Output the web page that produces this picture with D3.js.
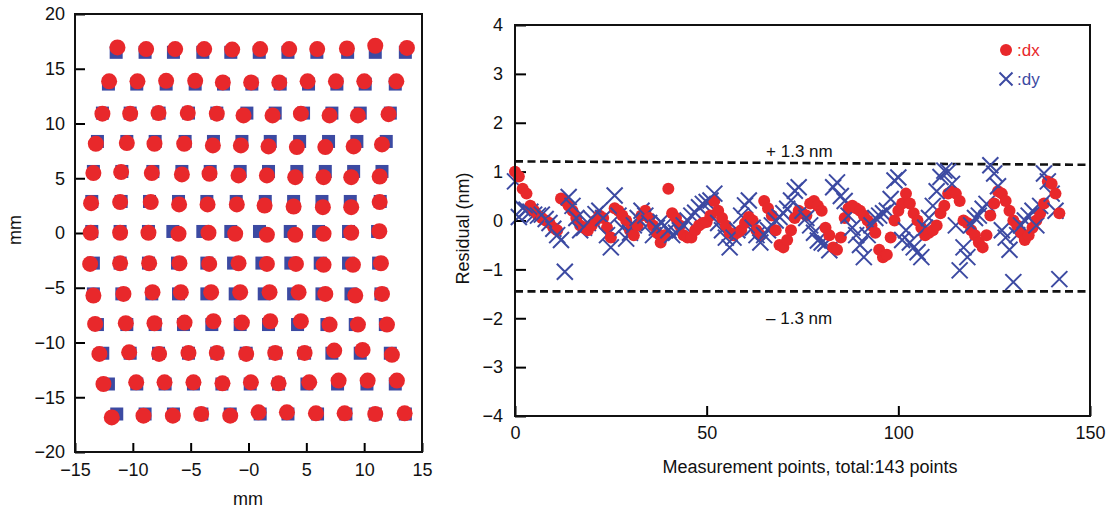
<!DOCTYPE html>
<html><head><meta charset="utf-8">
<script src="https://cdn.jsdelivr.net/npm/d3@7"></script>
<style>
html,body{margin:0;padding:0;background:#fff;}
svg{display:block;font-family:"Liberation Sans",Arial,Helvetica,sans-serif;}
</style></head>
<body>
<svg id="chart" width="1108" height="511"></svg>
<script>
// ---------- Left chart data (mm) ----------
const gridXTicks = [-15, -10, -5, 0, 5, 10, 15];
const gridXTickLabels = ["\u221215", "\u221210", "\u22125", "\u22120", "5", "10", "15"];
const gridYTicks = [20, 15, 10, 5, 0, -5, -10, -15, -20];
const gridYTickLabels = ["20", "15", "10", "5", "0", "\u22125", "\u221210", "\u221215", "\u221220"];

const squareRowY = [16.5, 13.6, 10.95, 8.36, 5.62, 2.88, 0.14, -2.75, -5.56, -8.36, -10.98, -13.79, -16.53];
const squareX = [
  [-11.44, -8.94, -6.49, -3.95, -1.53, 0.93, 3.41, 5.91, 8.57, 10.96, 13.56],
  [-12.11, -9.66, -7.12, -4.61, -2.16, 0.29, 2.74, 5.19, 7.64, 10.09, 12.69],
  [-12.63, -10.23, -7.73, -5.19, -2.74, -0.14, 2.31, 4.76, 7.21, 9.66, 12.26],
  [-13.06, -10.52, -8.07, -5.48, -3.03, -0.57, 1.88, 4.42, 6.92, 9.37, 11.91],
  [-13.41, -10.95, -8.27, -5.76, -3.31, -0.72, 1.73, 4.18, 6.64, 9.09, 11.54],
  [-13.55, -11.01, -8.56, -6.05, -3.60, -1.06, 1.45, 3.90, 6.35, 8.80, 11.39],
  [-13.55, -11.10, -8.65, -6.54, -3.95, -1.53, 0.95, 3.61, 6.06, 8.65, 11.16],
  [-13.41, -11.10, -8.65, -6.14, -3.60, -1.29, 1.16, 3.66, 6.20, 8.65, 11.25],
  [-13.41, -10.95, -8.36, -6.05, -3.60, -1.15, 1.36, 3.90, 6.35, 8.86, 11.45],
  [-13.06, -10.52, -8.07, -5.62, -3.17, -0.72, 1.73, 4.24, 6.78, 9.23, 11.83],
  [-12.60, -10.23, -7.78, -5.19, -2.74, -0.20, 2.31, 4.85, 7.21, 9.66, 12.26],
  [-12.11, -9.66, -7.21, -4.76, -2.30, 0.15, 2.60, 5.05, 7.70, 10.24, 12.69],
  [-11.39, -8.94, -6.49, -4.03, -1.58, 1.01, 3.41, 5.97, 8.42, 10.96, 13.56]
];
const circleX = [
  [-11.33, -8.85, -6.34, -3.83, -1.41, 1.01, 3.52, 5.94, 8.51, 10.96, 13.70],
  [-12.05, -9.60, -7.12, -4.61, -2.22, 0.23, 2.66, 5.11, 7.56, 10.01, 12.78],
  [-12.63, -10.23, -7.78, -5.25, -2.74, -0.43, 2.08, 4.53, 7.01, 9.46, 12.11],
  [-13.20, -10.52, -8.13, -5.56, -3.08, -0.66, 1.73, 4.18, 6.64, 9.09, 11.54],
  [-13.41, -11.01, -8.36, -5.76, -3.37, -0.86, 1.59, 4.04, 6.49, 8.88, 11.34],
  [-13.61, -11.10, -8.45, -6.00, -3.54, -1.01, 1.39, 3.90, 6.43, 8.88, 11.34],
  [-13.64, -11.10, -8.65, -6.05, -3.46, -1.15, 1.59, 4.04, 6.49, 8.88, 11.31],
  [-13.69, -11.10, -8.59, -5.97, -3.40, -0.86, 1.59, 4.10, 6.49, 9.03, 11.45],
  [-13.41, -10.81, -8.30, -5.85, -3.23, -0.72, 1.82, 4.33, 6.64, 9.23, 11.54],
  [-13.26, -10.61, -8.13, -5.53, -3.03, -0.57, 1.88, 4.53, 7.01, 9.46, 11.97],
  [-12.89, -10.32, -7.73, -5.19, -2.74, -0.20, 2.31, 4.85, 7.41, 9.86, 12.40],
  [-12.54, -9.71, -7.26, -4.76, -2.25, 0.21, 2.60, 5.25, 7.79, 10.30, 12.83],
  [-11.82, -9.08, -6.54, -4.09, -1.58, 0.87, 3.32, 5.83, 8.31, 10.96, 13.50]
];
const circleY = [
  [16.95, 16.8, 16.8, 16.8, 16.75, 16.8, 16.8, 16.8, 16.85, 17.1, 16.9],
  [13.85, 13.85, 13.9, 13.9, 13.75, 13.75, 13.75, 13.85, 13.85, 13.85, 13.85],
  [10.9, 10.9, 10.95, 10.95, 10.9, 10.74, 10.74, 10.9, 10.74, 10.74, 10.85],
  [8.15, 8.21, 8.15, 8.15, 8.0, 8.0, 7.91, 7.85, 7.85, 7.91, 8.09],
  [5.47, 5.56, 5.47, 5.35, 5.41, 5.26, 5.26, 5.10, 5.10, 5.10, 5.16],
  [2.72, 2.82, 2.82, 2.61, 2.61, 2.61, 2.51, 2.42, 2.36, 2.36, 2.82],
  [0.02, 0.02, 0.02, -0.07, 0.02, -0.07, -0.16, -0.16, -0.07, 0.02, 0.16],
  [-2.82, -2.76, -2.76, -2.76, -2.82, -2.76, -2.82, -2.82, -2.91, -2.91, -2.76],
  [-5.71, -5.56, -5.41, -5.41, -5.41, -5.41, -5.41, -5.41, -5.56, -5.71, -5.56],
  [-8.30, -8.24, -8.24, -8.18, -8.06, -8.18, -8.06, -8.06, -8.36, -8.36, -8.36],
  [-11.04, -10.90, -11.04, -10.95, -10.95, -11.04, -10.95, -10.95, -10.74, -10.68, -11.13],
  [-13.79, -13.64, -13.64, -13.64, -13.73, -13.64, -13.73, -13.64, -13.48, -13.48, -13.48],
  [-16.84, -16.68, -16.68, -16.53, -16.68, -16.38, -16.38, -16.47, -16.47, -16.53, -16.47]
];

// ---------- Right chart data (nm) ----------
const resXTicks = [0, 50, 100, 150];
const resXTickLabels = ["0", "50", "100", "150"];
const resYTicks = [4, 3, 2, 1, 0, -1, -2, -3, -4];
const resYTickLabels = ["4", "3", "2", "1", "0", "\u22121", "\u22122", "\u22123", "\u22124"];

const dxValues = [
  1.0, 0.9, 0.65, 0.55, 0.3, 0.2, 0.1, 0.05, 0.0, -0.05, -0.15,
  -0.2, 0.45, 0.4, 0.3, 0.2, 0.05, -0.1, -0.15, -0.2, -0.1, 0.0,
  0.1, 0.05, -0.15, -0.35, 0.25, 0.2, 0.1, 0.0, -0.2, -0.3, -0.1,
  0.1, 0.2, 0.05, -0.1, -0.25, -0.45, -0.3, 0.65, 0.15, 0.05, -0.1,
  -0.3, -0.35, -0.35, -0.2, -0.1, -0.05, -0.03, 0.1, 0.4, 0.2, 0.05,
  -0.1, -0.25, -0.3, -0.25, -0.2, -0.05, 0.07, 0.0, -0.2, -0.3, 0.4,
  0.25, 0.1, -0.2, -0.5, -0.55, -0.4, -0.2, 0.05, 0.2, 0.15, 0.1,
  0.35, 0.4, 0.3, 0.2, -0.15, -0.3, -0.55, -0.6, -0.35, 0.05, 0.25,
  0.3, 0.25, 0.2, 0.1, 0.0, -0.1, -0.25, -0.6, -0.75, -0.7, -0.35,
  0.0, 0.2, 0.35, 0.55, 0.35, 0.15, 0.0, -0.15, -0.3, -0.25, -0.2,
  -0.1, 0.15, 0.3, 0.55, 0.6, 0.55, 0.4, 0.0, -0.05, -0.2, -0.3,
  -0.45, -0.55, -0.3, 0.1, 0.35, 0.6, 0.55, 0.4, 0.2, 0.0, -0.1,
  -0.25, -0.4, -0.3, -0.15, 0.0, 0.15, 0.35, 0.8, 0.75, 0.55, 0.15
];
const dyValues = [
  0.80, 0.07, 0.25, 0.22, 0.18, 0.12, 0.10, 0.12, 0.03, -0.05, -0.17,
  -0.30, -0.40, -1.05, 0.48, 0.30, 0.05, -0.20, -0.15, -0.05, 0.03, 0.13,
  0.20, 0.05, -0.30, -0.55, 0.51, 0.10, -0.15, -0.37, -0.25, -0.10, 0.05,
  0.20, 0.10, -0.05, -0.30, -0.15, -0.03, -0.10, -0.20, -0.30, -0.25, -0.20,
  -0.10, 0.00, 0.10, 0.16, 0.27, 0.34, 0.38, 0.41, 0.55, -0.05, -0.20,
  -0.35, -0.55, -0.35, -0.20, 0.10, 0.31, 0.41, -0.15, -0.30, -0.45, -0.30,
  -0.20, -0.10, 0.00, 0.07, 0.15, 0.24, 0.41, 0.61, 0.68, 0.20, 0.05,
  -0.10, -0.25, -0.41, -0.45, -0.47, -0.61, 0.68, 0.78, 0.50, 0.40, 0.10,
  -0.15, -0.30, -0.50, -0.75, -0.30, -0.10, 0.05, 0.10, 0.15, 0.20, 0.44,
  0.82, 0.88, -0.40, -0.20, -0.45, -0.55, -0.65, -0.75, -0.15, 0.05, 0.30,
  0.60, 0.89, 1.02, 1.00, 0.75, -0.10, -1.02, -0.55, -0.75, -0.10, 0.05,
  0.10, 0.24, 0.34, 1.13, 0.96, 0.70, -0.20, -0.35, -0.60, -1.26, -0.30,
  -0.10, 0.00, 0.10, 0.20, -0.10, 0.30, 0.96, 0.80, 0.55, 0.20, -1.20
];
const upperLimit = [[0, 1.21], [150, 1.14]];
const lowerLimit = [[0, -1.45], [150, -1.45]];
const upperLabel = {x: 65.5, y: 1.43, text: "+ 1.3 nm"};
const lowerLabel = {x: 65.5, y: -1.99, text: "\u2013 1.3 nm"};

// ---------- Styles ----------
const RED = "#e8282b", BLUE = "#3c4aa2", FONT = 18;
const svg = d3.select("#chart");
svg.append("rect").attr("width", 1108).attr("height", 511).attr("fill", "#fff");

function styleAxis(g) {
  g.select(".domain").remove();
  g.selectAll(".tick line").attr("stroke", "#000").attr("stroke-width", 2);
  g.selectAll(".tick text").attr("font-size", FONT).attr("fill", "#111")
    .attr("font-family", '"Liberation Sans",Arial,sans-serif');
}

// ================= Left chart =================
const L = {x0: 75, x1: 422, y0: 14, y1: 452};
const gx = d3.scaleLinear().domain([-15, 15]).range([L.x0, L.x1]);
const gy = d3.scaleLinear().domain([-20, 20]).range([L.y1, L.y0]);
const left = svg.append("g");

left.append("g").attr("transform", `translate(0,${L.y1})`)
  .call(d3.axisBottom(gx).tickValues(gridXTicks).tickSizeInner(-9).tickSizeOuter(0).tickPadding(11)
    .tickFormat((d, i) => gridXTickLabels[i]))
  .call(styleAxis);
left.append("g").attr("transform", `translate(${L.x0},0)`)
  .call(d3.axisLeft(gy).tickValues(gridYTicks).tickSizeInner(-10).tickSizeOuter(0).tickPadding(10)
    .tickFormat((d, i) => gridYTickLabels[i]))
  .call(styleAxis);

const sq = 13;
const squares = [];
squareX.forEach((row, r) => row.forEach((x) => squares.push({x, y: squareRowY[r]})));
const circles = [];
circleX.forEach((row, r) => row.forEach((x, c) => circles.push({x, y: circleY[r][c]})));

left.append("g").selectAll("rect").data(squares).join("rect")
  .attr("x", d => gx(d.x) - sq / 2).attr("y", d => gy(d.y) - sq / 2)
  .attr("width", sq).attr("height", sq).attr("fill", BLUE);
left.append("g").selectAll("circle").data(circles).join("circle")
  .attr("cx", d => gx(d.x)).attr("cy", d => gy(d.y)).attr("r", 8).attr("fill", RED);

left.append("rect").attr("x", L.x0).attr("y", L.y0).attr("width", L.x1 - L.x0).attr("height", L.y1 - L.y0)
  .attr("fill", "none").attr("stroke", "#111").attr("stroke-width", 2);

left.append("text").attr("x", (L.x0 + L.x1) / 2 - 0.5).attr("y", 505).attr("text-anchor", "middle")
  .attr("font-size", FONT).attr("fill", "#111").text("mm");
left.append("text").attr("transform", `translate(21,${(L.y0 + L.y1) / 2 - 3}) rotate(-90)`)
  .attr("text-anchor", "middle").attr("font-size", FONT).attr("fill", "#111").text("mm");

// ================= Right chart =================
const R = {x0: 515, x1: 1090, y0: 25, y1: 416};
const rx = d3.scaleLinear().domain([0, 150]).range([R.x0, R.x1]);
const ry = d3.scaleLinear().domain([-4, 4]).range([R.y1, R.y0]);
const right = svg.append("g");

right.append("g").attr("transform", `translate(0,${R.y1})`)
  .call(d3.axisBottom(rx).tickValues(resXTicks).tickSizeInner(-10).tickSizeOuter(0).tickPadding(10)
    .tickFormat((d, i) => resXTickLabels[i]))
  .call(styleAxis);
right.append("g").attr("transform", `translate(${R.x0},0)`)
  .call(d3.axisLeft(ry).tickValues(resYTicks).tickSizeInner(-11).tickSizeOuter(0).tickPadding(12)
    .tickFormat((d, i) => resYTickLabels[i]))
  .call(styleAxis);

const line = d3.line().x(d => rx(d[0])).y(d => ry(d[1]));
[upperLimit, lowerLimit].forEach(pts => {
  right.append("path").attr("d", line(pts)).attr("fill", "none").attr("stroke", "#111")
    .attr("stroke-width", 2.6).attr("stroke-dasharray", "8,4.5");
});

const xPath = "M-8,-8L8,8M8,-8L-8,8";
const marks = right.append("g");
dxValues.forEach((v, i) => {
  marks.append("circle").attr("cx", rx(i)).attr("cy", ry(v)).attr("r", 6).attr("fill", RED);
  marks.append("path").attr("d", xPath).attr("transform", `translate(${rx(i)},${ry(dyValues[i])})`)
    .attr("stroke", BLUE).attr("stroke-width", 2).attr("fill", "none");
});

right.append("rect").attr("x", R.x0).attr("y", R.y0).attr("width", R.x1 - R.x0).attr("height", R.y1 - R.y0)
  .attr("fill", "none").attr("stroke", "#111").attr("stroke-width", 2);

[upperLabel, lowerLabel].forEach(l => {
  right.append("text").attr("x", rx(l.x)).attr("y", ry(l.y) + 6.5).attr("font-size", 17)
    .attr("fill", "#111").text(l.text);
});

// legend
const lg = right.append("g");
lg.append("circle").attr("cx", 1006).attr("cy", 50).attr("r", 6).attr("fill", RED);
lg.append("text").attr("x", 1017).attr("y", 56).attr("font-size", 17).attr("fill", RED).text(":dx");
lg.append("path").attr("d", "M-6.5,-6.5L6.5,6.5M6.5,-6.5L-6.5,6.5").attr("transform", "translate(1006,79)")
  .attr("stroke", BLUE).attr("stroke-width", 2).attr("fill", "none");
lg.append("text").attr("x", 1017).attr("y", 85).attr("font-size", 17).attr("fill", BLUE).text(":dy");

right.append("text").attr("transform", `translate(469,${(R.y0 + R.y1) / 2 + 8}) rotate(-90)`)
  .attr("text-anchor", "middle").attr("font-size", FONT).attr("fill", "#111").text("Residual (nm)");
right.append("text").attr("x", 810).attr("y", 473).attr("text-anchor", "middle")
  .attr("font-size", FONT).attr("fill", "#111").text("Measurement points, total:143 points");
</script>
</body></html>
